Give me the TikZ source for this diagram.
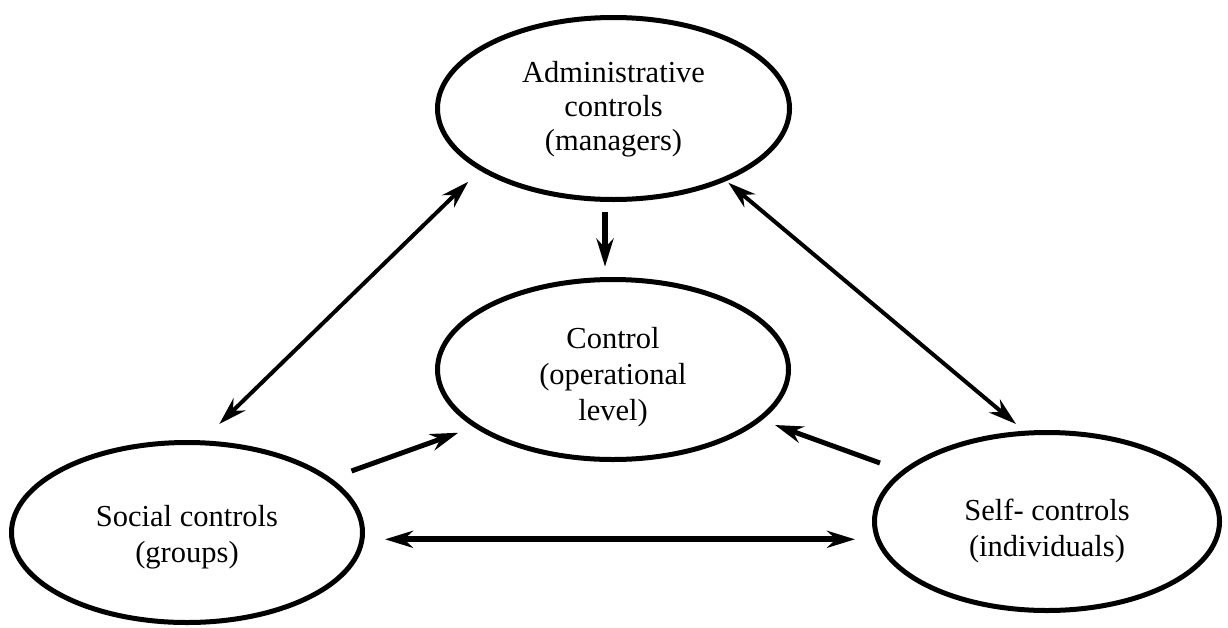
\documentclass[tikz,border=0pt]{standalone}
\usepackage{fontspec}
\setmainfont{Liberation Serif}
\usetikzlibrary{shapes.geometric,arrows.meta,calc}
\newcommand{\elltext}[2]{\raisebox{0pt}[\dimexpr\height+#1\relax][\depth]{\begin{tabular}{@{}c@{}}#2\end{tabular}}}
\tikzset{
  ell/.style={draw, ellipse, line width=5pt, inner sep=0pt, outer sep=0pt,
    font=\fontsize{30.5}{36}\selectfont},
  tipa/.tip={Stealth[length=28pt,width=17pt,inset=9pt]},
  con/.style={-tipa},
  bicon/.style={tipa-tipa},
}
\begin{document}
\begin{tikzpicture}[x=1pt,y=-1pt]
\useasboundingbox (0,0) rectangle (1228,627);
\node[ell, minimum width=352pt, minimum height=182pt, font=\fontsize{30.5}{34}\selectfont] (admin) at (613.5,108.5)
  {\elltext{2pt}{Administrative\\controls\\(managers)}};
\node[ell, minimum width=351pt, minimum height=180pt] (control) at (613,369.5)
  {\elltext{16pt}{Control\\(operational\\level)}};
\node[ell, minimum width=351pt, minimum height=180pt] (social) at (187,532.5)
  {\elltext{10pt}{Social controls\\(groups)}};
\node[ell, minimum width=345pt, minimum height=178pt] (self) at (1047,521.5)
  {\elltext{20pt}{Self- controls\\(individuals)}};

\draw[con, line width=6pt] ($(admin)+(-8.5,103.2)$) -- ($(control)+(-8,-102.8)$);
\draw[bicon, line width=4pt] ($(social)+(32.3,-108.5)$) -- ($(admin)+(-145.2,73.2)$);
\draw[bicon, line width=4pt] ($(self)+(-31,-97.5)$) -- ($(admin)+(114.8,74.2)$);
\draw[con, line width=5pt] ($(social)+(164.5,-61.5)$) -- ($(control)+(-154.7,63.2)$);
\draw[con, line width=5pt] ($(self)+(-167,-58.5)$) -- ($(control)+(162,55.5)$);
\draw[bicon, line width=6pt] ($(social)+(198,6.8)$) -- ($(self)+(-192,17.8)$);
\end{tikzpicture}
\end{document}
